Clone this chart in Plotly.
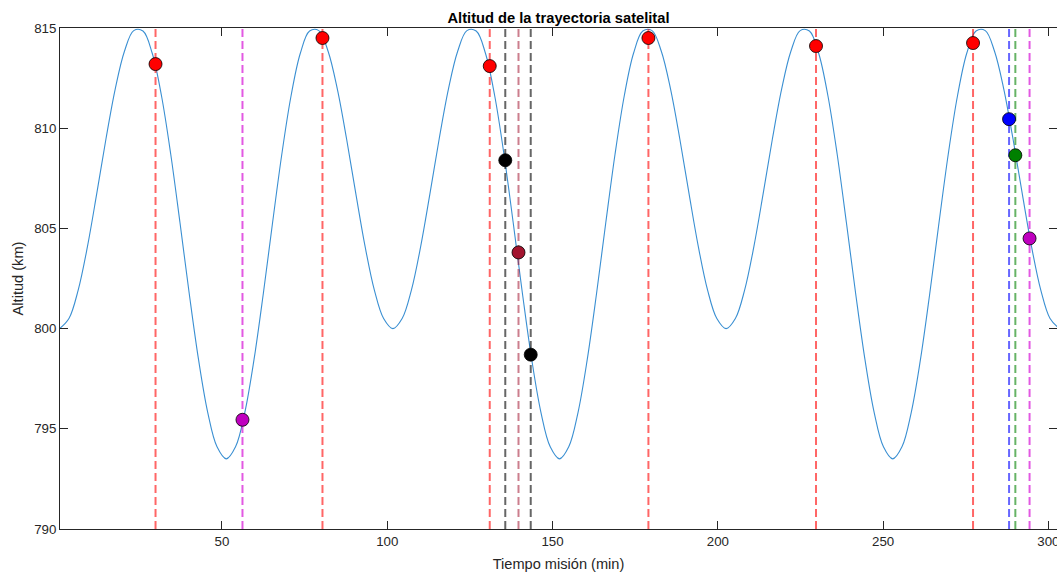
import plotly.graph_objects as go

# ---------------- data ----------------
t_start = 0.9      # min, first sample
t_step = 2.8       # min, sampling step of the altitude curve

altitud_km = [
    800.00, 800.50, 801.92, 804.09, 806.72, 809.46, 811.95, 813.84, 814.87, 814.85,
    813.74, 811.62, 808.70, 805.28, 801.74, 798.46, 795.81, 794.10, 793.50, 794.10,
    795.81, 798.46, 801.74, 805.28, 808.70, 811.62, 813.74, 814.85, 814.87, 813.84,
    811.95, 809.46, 806.72, 804.09, 801.92, 800.50,
    800.00, 800.50, 801.92, 804.09, 806.72, 809.46, 811.95, 813.84, 814.87, 814.85,
    813.74, 811.62, 808.70, 805.28, 801.74, 798.46, 795.81, 794.10, 793.50, 794.10,
    795.81, 798.46, 801.74, 805.28, 808.70, 811.62, 813.74, 814.85, 814.87, 813.84,
    811.95, 809.46, 806.72, 804.09, 801.92, 800.50,
    800.00, 800.50, 801.92, 804.09, 806.72, 809.46, 811.95, 813.84, 814.87, 814.85,
    813.74, 811.62, 808.70, 805.28, 801.74, 798.46, 795.81, 794.10, 793.50, 794.10,
    795.81, 798.46, 801.74, 805.28, 808.70, 811.62, 813.74, 814.85, 814.87, 813.84,
    811.95, 809.46, 806.72, 804.09, 801.92, 800.50,
    800.00,
]
tiempo_min = [round(t_start + t_step * i, 2) for i in range(len(altitud_km))]

# events (time, altitude)
red_t = [29.9, 80.4, 131.0, 179.0, 229.7, 277.2]
red_h = [813.2, 814.5, 813.1, 814.5, 814.1, 814.25]
magenta_t = [56.2, 294.3]
magenta_h = [795.45, 804.5]
black_t = [135.7, 143.4]
black_h = [808.4, 798.7]
brown_t = [139.7]
brown_h = [803.8]
blue_t = [288.1]
blue_h = [810.45]
green_t = [290.0]
green_h = [808.65]

x_ticks = [50, 100, 150, 200, 250, 300]
y_ticks = [790, 795, 800, 805, 810, 815]
x_lim = [1, 302.6]
y_lim = [790, 815]

title_txt = "Altitud de la trayectoria satelital"
x_label = "Tiempo misión (min)"
y_label = "Altitud (km)"

# ---------------- figure ----------------
FONT = "Liberation Sans, Arial, Helvetica, sans-serif"
fig = go.Figure()

fig.add_trace(go.Scatter(
    x=tiempo_min, y=altitud_km, mode="lines",
    line=dict(color="#3a8fd2", width=1.1, shape="spline"),
    hoverinfo="skip",
))

groups = [
    (red_t, red_h, "#FF0000", "rgba(255,0,0,0.6)"),
    (magenta_t, magenta_h, "#BF00BF", "rgba(210,0,210,0.65)"),
    (black_t, black_h, "#000000", "rgba(0,0,0,0.6)"),
    (brown_t, brown_h, "#A2142F", "rgba(162,20,47,0.55)"),
    (blue_t, blue_h, "#0000FF", "rgba(0,0,255,0.6)"),
    (green_t, green_h, "#008000", "rgba(0,128,0,0.6)"),
]

# dashed vertical lines
for ts, hs, mc, lc in groups:
    for tv in ts:
        fig.add_trace(go.Scatter(
            x=[tv, tv], y=y_lim, mode="lines",
            line=dict(color=lc, width=2, dash="8px,4px"),
            hoverinfo="skip",
        ))

# markers
for ts, hs, mc, lc in groups:
    fig.add_trace(go.Scatter(
        x=ts, y=hs, mode="markers",
        marker=dict(size=13, color=mc, line=dict(color="#000000", width=0.8)),
        cliponaxis=False,
    ))

axis_common = dict(
    showgrid=False, zeroline=False, showline=True, linecolor="#262626",
    linewidth=1, mirror="allticks", ticks="inside", ticklen=8,
    tickcolor="#262626", tickwidth=1, automargin=False,
    ticklabeloverflow="allow",
    tickfont=dict(family=FONT, size=13.3, color="#262626"),
)

W, H = 1057, 573
fig.update_layout(
    template="none",
    width=W, height=H,
    margin=dict(l=60, r=0, t=28, b=44, autoexpand=False),
    paper_bgcolor="white", plot_bgcolor="white",
    showlegend=False,
    hovermode=False,
    title=dict(
        text="<b>" + title_txt + "</b>",
        font=dict(family=FONT, size=14.7, color="#000000"),
        xref="paper", x=0.5, xanchor="center",
        yref="container", y=1 - 22.5 / H, yanchor="bottom",
        automargin=False,
    ),
    xaxis=dict(
        range=x_lim, tickvals=x_ticks,
        title=dict(text=x_label, font=dict(family=FONT, size=14.6, color="#262626"),
                   standoff=10),
        **axis_common,
    ),
    yaxis=dict(
        range=y_lim, tickvals=y_ticks,
        title=dict(text=y_label, font=dict(family=FONT, size=14.6, color="#262626"),
                   standoff=7),
        **axis_common,
    ),
)

# remove the browser's default page margin so the figure fills the window
fig.write_html(
    "out.html",
    config={"displayModeBar": False},
    post_script="document.body.style.margin='0px';document.body.style.overflow='hidden';",
)
